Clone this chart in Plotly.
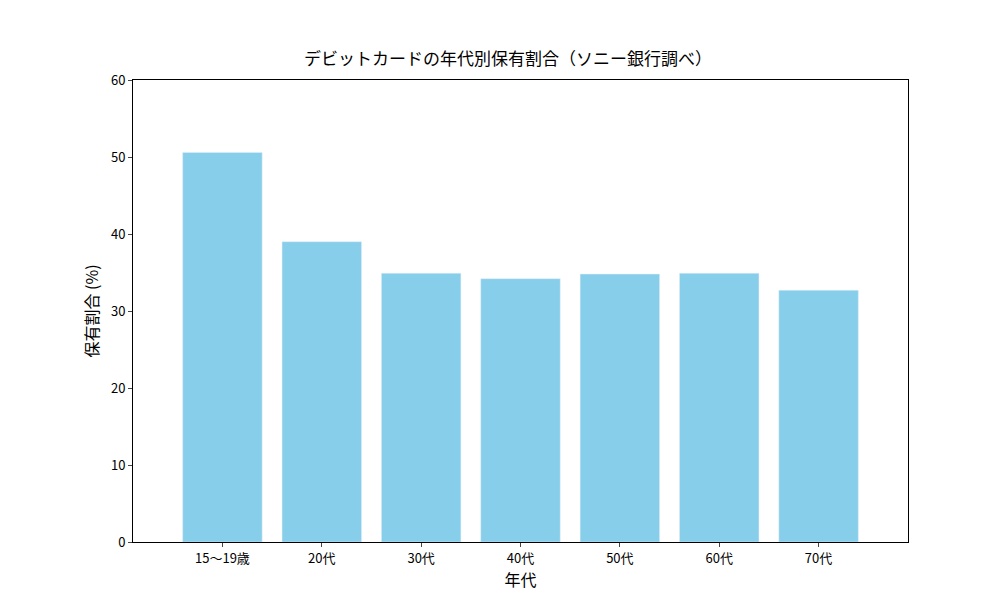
import plotly.graph_objects as go

categories = ["15〜19歳", "20代", "30代", "40代", "50代", "60代", "70代"]
values = [50.6, 39.0, 34.9, 34.2, 34.8, 34.9, 32.7]

font = "Noto Sans CJK JP"
fig = go.Figure(go.Bar(x=categories, y=values, marker_color="#87CEEB", width=0.8))
fig.update_layout(
    width=1000, height=600, plot_bgcolor="white", paper_bgcolor="white",
    margin=dict(l=125, r=100, t=72, b=66),
    font=dict(family=font, size=13, color="black"),
    title=dict(text="デビットカードの年代別保有割合（ソニー銀行調べ）", x=0.5, xanchor="center", y=0.925, font=dict(size=17)),
    showlegend=False,
)
fig.update_xaxes(title=dict(text="年代", standoff=4), showline=True, mirror=True, linecolor="black",
                 ticks="outside", ticklen=4, range=[-0.5-0.4-0.0, 6.9])
fig.update_yaxes(title=dict(text="保有割合 (%)", standoff=8), range=[0, 60], dtick=10, showline=True, mirror=True,
                 linecolor="black", ticks="outside", ticklen=4, showgrid=False, zeroline=False)
fig.write_html("out.html")
